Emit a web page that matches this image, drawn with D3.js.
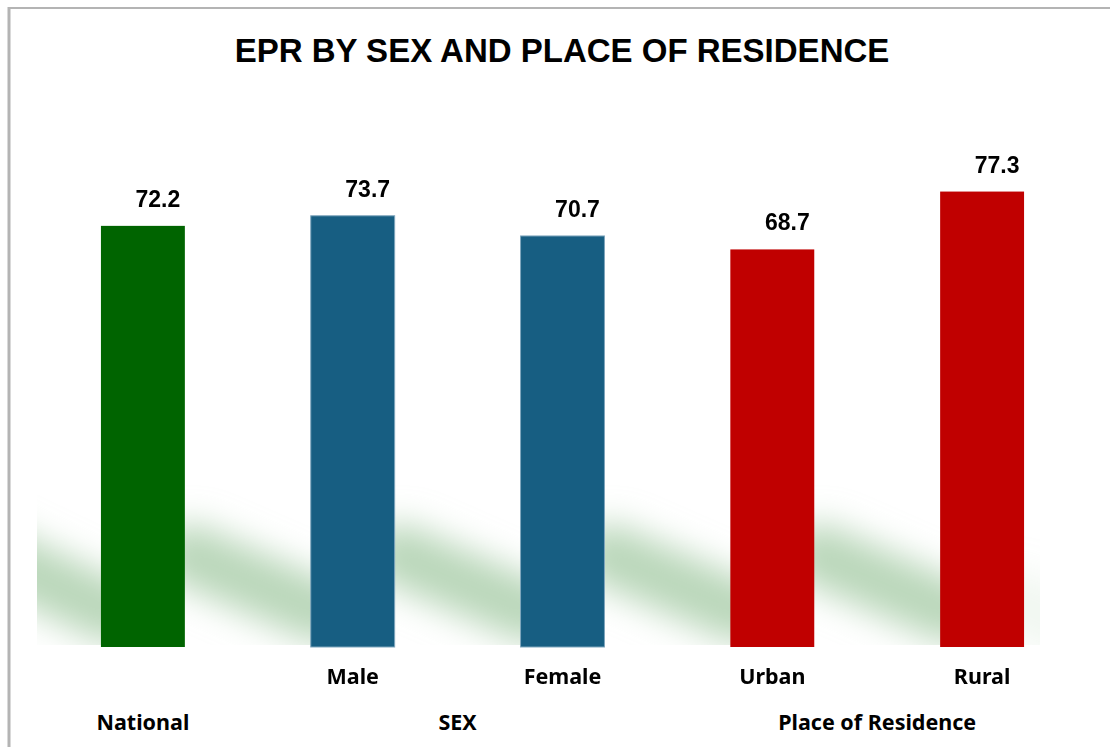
<!DOCTYPE html>
<html>
<head>
<meta charset="utf-8">
<script src="https://cdn.jsdelivr.net/npm/d3@7"></script>
<style>
  body { margin: 0; background: #fff; }
  svg { display: block; }
</style>
</head>
<body>
<svg id="chart" width="1110" height="747"></svg>
<script>
let categories = ['National', 'Male', 'Female', 'Urban', 'Rural']
let values = [72.2, 73.7, 70.7, 68.7, 77.3]
let tickLabels = ['', 'Male', 'Female', 'Urban', 'Rural']
let groupOf = ['National', 'SEX', 'SEX', 'Place of Residence', 'Place of Residence']
let groupNames = ['National', 'SEX', 'Place of Residence']
let barColors = ['#006400', '#175e82', '#175e82', '#c00000', '#c00000']

let svg = d3.select('#chart')
let baseY = 647

let x = d3.scaleBand()
    .domain(categories)
    .range([38, 1087])
    .paddingInner(0.6)
    .paddingOuter(0.3)

let y = d3.scaleLinear()
    .domain([9.6, 80])
    .range([baseY, 173.4])

// frame
svg.append('line').attr('x1', 9).attr('x2', 9).attr('y1', 7).attr('y2', 747)
    .attr('stroke', '#b4b4b4').attr('stroke-width', 3)
svg.append('line').attr('x1', 8).attr('x2', 1110).attr('y1', 8).attr('y2', 8)
    .attr('stroke', '#b4b4b4').attr('stroke-width', 2)

// title
svg.append('text')
    .attr('x', 562).attr('y', 62)
    .attr('text-anchor', 'middle')
    .attr('font-family', 'Liberation Sans, Arial, sans-serif')
    .attr('font-weight', 'bold')
    .attr('font-size', 33)
    .text('EPR BY SEX AND PLACE OF RESIDENCE')

// soft green stripes behind the bars
let defs = svg.append('defs')
defs.append('filter').attr('id', 'blur')
    .attr('filterUnits', 'userSpaceOnUse')
    .attr('x', -200).attr('y', 300).attr('width', 1500).attr('height', 500)
    .append('feGaussianBlur').attr('stdDeviation', 17)
defs.append('clipPath').attr('id', 'plotClip')
    .append('rect').attr('x', 37).attr('y', 480).attr('width', 1003).attr('height', baseY - 2 - 480)

let stripes = categories.map((c, i) => {
    let left = i == 0 ? x(c) - 130 : x(categories[i - 1]) + x.bandwidth() + 5
    return { x1: left, x2: x(c) + 10, y1: i == 0 ? 545 : 555, y2: 612, o: 1 }
})
stripes.push({ x1: x('Rural') + x.bandwidth() - 10, x2: x('Rural') + x.bandwidth() + 40, y1: 600, y2: 625, o: 0.2 })

svg.append('g')
    .attr('clip-path', 'url(#plotClip)')
    .append('g')
    .attr('filter', 'url(#blur)')
    .selectAll('line')
    .data(stripes)
    .enter()
    .append('line')
    .attr('x1', d => d.x1)
    .attr('x2', d => d.x2)
    .attr('y1', d => d.y1)
    .attr('y2', d => d.y2)
    .attr('stroke', '#bad7ba')
    .attr('stroke-width', 62)
    .attr('stroke-linecap', 'round')
    .attr('opacity', d => d.o)

// bars
svg.selectAll('rect.bar')
    .data(values)
    .enter()
    .append('rect')
    .attr('class', 'bar')
    .attr('x', (d, i) => x(categories[i]))
    .attr('y', d => y(d))
    .attr('width', x.bandwidth())
    .attr('height', d => baseY - y(d))
    .attr('fill', (d, i) => barColors[i])
    .attr('stroke', (d, i) => barColors[i] == '#175e82' ? '#7fa6bd' : 'none')
    .attr('stroke-width', 1)

// value labels
svg.selectAll('text.value')
    .data(values)
    .enter()
    .append('text')
    .attr('class', 'value')
    .attr('x', (d, i) => x(categories[i]) + x.bandwidth() / 2 + 15)
    .attr('y', d => y(d) - 19)
    .attr('text-anchor', 'middle')
    .attr('font-family', 'Liberation Sans, Arial, sans-serif')
    .attr('font-weight', 'bold')
    .attr('font-size', 23)
    .text(d => d.toFixed(1))

// category axis
let axis = d3.axisBottom(x)
    .tickSize(0)
    .tickPadding(0)
    .tickFormat((d, i) => tickLabels[i])

let axisG = svg.append('g')
    .attr('transform', 'translate(0,' + baseY + ')')
    .call(axis)
axisG.select('.domain').remove()
axisG.selectAll('text')
    .attr('dy', 0)
    .attr('y', 37)
    .attr('font-family', 'Noto Sans, Open Sans, sans-serif')
    .attr('font-weight', 'bold')
    .attr('font-size', 21.5)
    .attr('fill', '#000')

// group labels
svg.selectAll('text.group')
    .data(groupNames)
    .enter()
    .append('text')
    .attr('class', 'group')
    .attr('x', g => {
        let members = categories.filter((c, i) => groupOf[i] == g)
        return d3.mean(members, c => x(c) + x.bandwidth() / 2)
    })
    .attr('y', 730)
    .attr('text-anchor', 'middle')
    .attr('font-family', 'Noto Sans, Open Sans, sans-serif')
    .attr('font-weight', 'bold')
    .attr('font-size', 21.5)
    .text(g => g)
</script>
</body>
</html>
